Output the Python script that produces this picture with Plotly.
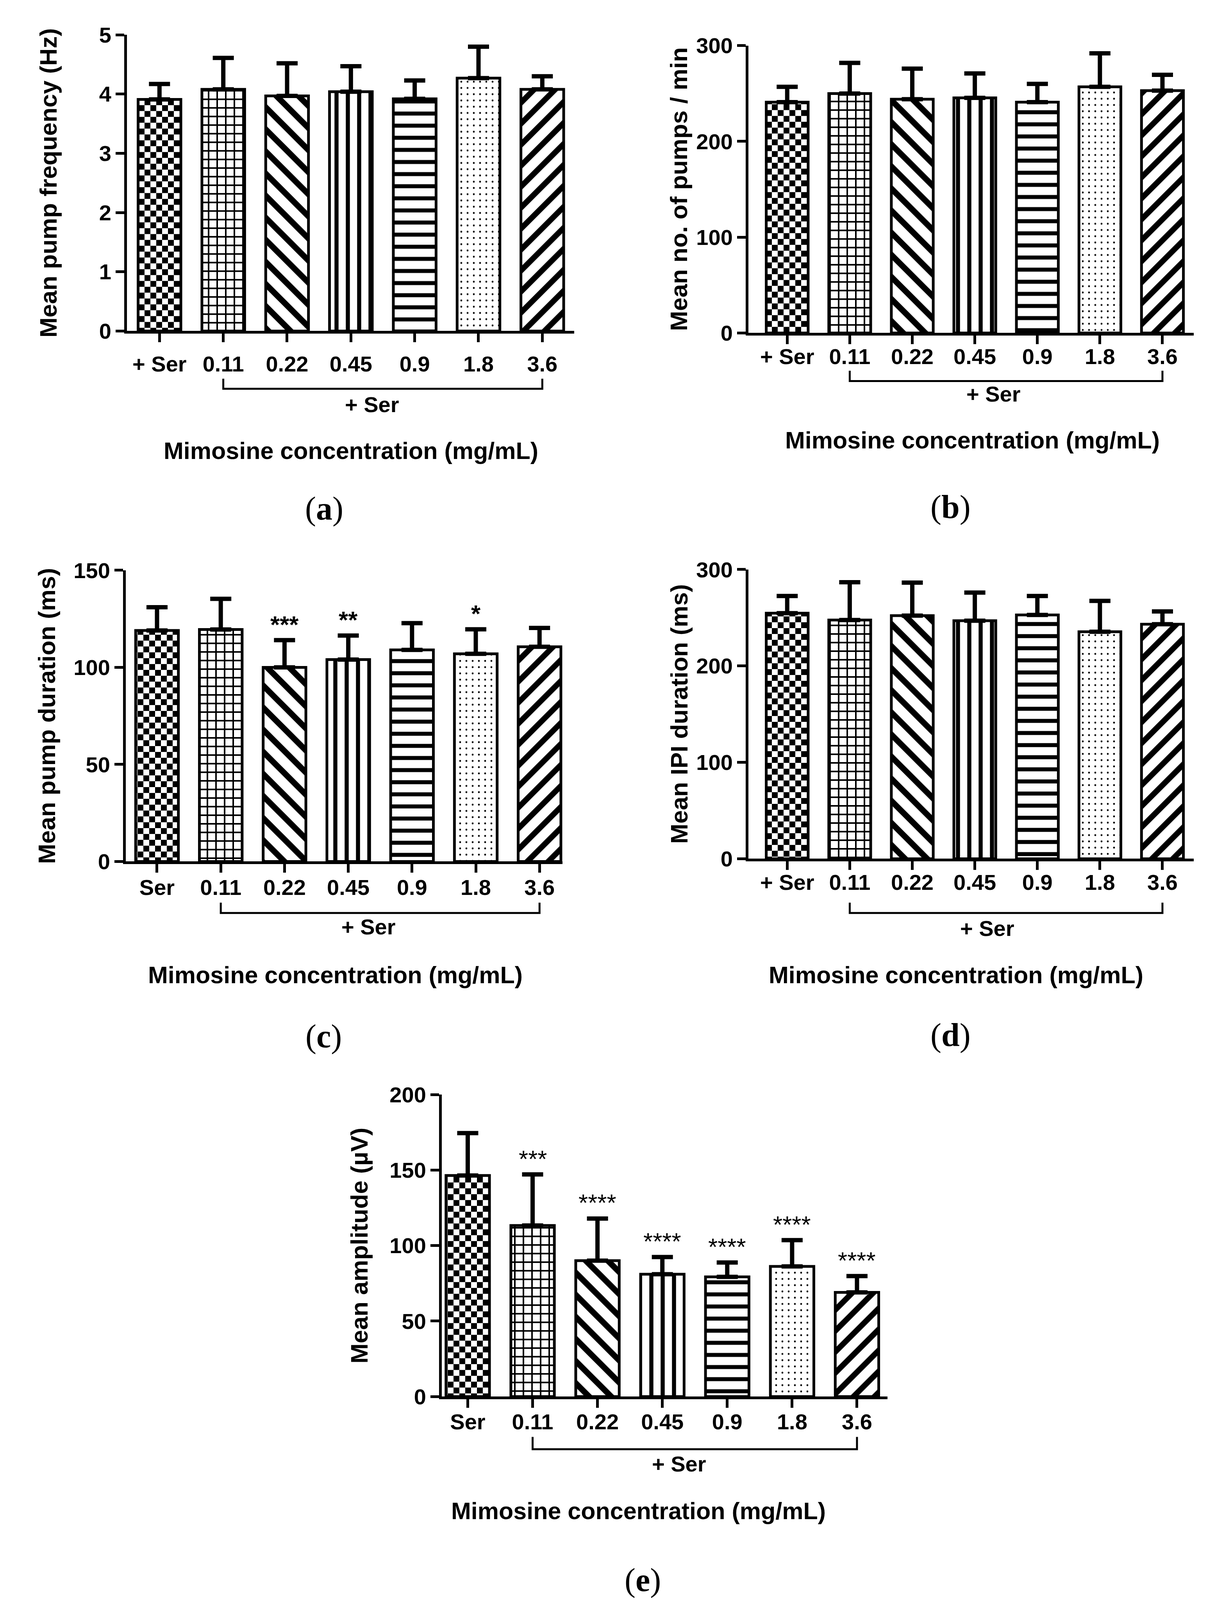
import plotly.graph_objects as go

# page size; the photographed page is offset by the html body margin plus a small top band,
# so the figure is placed to compensate
W, H = 3154, 4166
MX, MY = 8, 42
FW, FH = W - 2 * MX, H - MY

# ---------------- data ----------------
cats_a = ["+ Ser", "0.11", "0.22", "0.45", "0.9", "1.8", "3.6"]
freq_mean = [3.91, 4.08, 3.97, 4.04, 3.92, 4.27, 4.08]
freq_err = [0.26, 0.53, 0.55, 0.43, 0.31, 0.53, 0.22]

cats_b = ["+ Ser", "0.11", "0.22", "0.45", "0.9", "1.8", "3.6"]
pumps_mean = [241, 250, 244, 245.5, 241, 257, 253]
pumps_err = [16, 32, 32, 25.5, 19, 35, 16.5]

cats_c = ["Ser", "0.11", "0.22", "0.45", "0.9", "1.8", "3.6"]
dur_mean = [119, 119.5, 100, 104, 109, 107, 110.6]
dur_err = [12, 15.8, 14, 12.4, 13.8, 12.6, 9.7]
dur_stars = ["", "", "***", "**", "", "*", ""]

cats_d = ["+ Ser", "0.11", "0.22", "0.45", "0.9", "1.8", "3.6"]
ipi_mean = [254.7, 247.6, 252.2, 246.9, 252.9, 235.5, 243.3]
ipi_err = [17.8, 39.2, 34.2, 29.2, 19.6, 32, 13.2]

cats_e = ["Ser", "0.11", "0.22", "0.45", "0.9", "1.8", "3.6"]
amp_mean = [146.4, 113.3, 90, 81, 79.3, 86.2, 69]
amp_err = [28.1, 33.8, 27.9, 11.4, 9.5, 17.4, 10.8]
amp_stars = ["", "***", "****", "****", "****", "****", "****"]

x_title = "Mimosine concentration (mg/mL)"
group_label = "+ Ser"

# ---------------- styles ----------------
FONT = "Liberation Sans"
SERIF = "Liberation Serif"


def fx(p):
    return (p - MX) / FW


def fy(p):
    return 1 - (p - MY) / FH


def checker_pattern():
    s = 30
    h = s / 2
    try:
        return go.bar.marker.Pattern(
            path=f"M0,0H{h}V{h}H0Z M{h},{h}H{s}V{s}H{h}Z",
            size=s, solidity=1, fgcolor="black", bgcolor="white", fillmode="replace")
    except Exception:
        return go.bar.marker.Pattern(
            shape=".", size=20, solidity=0.45, fgcolor="black", bgcolor="white", fillmode="replace")


def simple_pattern(shape, size, solidity):
    return go.bar.marker.Pattern(shape=shape, size=size, solidity=solidity,
                                 fgcolor="black", bgcolor="white", fillmode="replace")


patterns = [
    checker_pattern(),
    simple_pattern("+", 22, 0.33),
    simple_pattern("\\", 40, 0.38),
    simple_pattern("|", 29, 0.36),
    simple_pattern("-", 31, 0.33),
    simple_pattern(".", 16, 0.07),
    simple_pattern("/", 38, 0.38),
]

# panel layout: page pixel positions; text x-positions under the axis in category units
panels = [
    dict(cats=cats_a, mean=freq_mean, err=freq_err, stars=None, ymax=5, dtick=1,
         ytitle="Mean pump frequency (Hz)", xpx=(325, 1470), ypx=(863, 93),
         xr=(-0.51, 6.5), ytx=123, xt=(3.0, 1174), gl=(3.33, 1054), br=(1013, 987),
         lab=("a", 830, 1325), so=7, star_bold=True),
    dict(cats=cats_b, mean=pumps_mean, err=pumps_err, stars=None, ymax=300, dtick=100,
         ytitle="Mean no. of pumps / min", xpx=(1916, 3056), ypx=(868, 121),
         xr=(-0.62, 6.5), ytx=1738, xt=(2.96, 1147), gl=(3.3, 1027), br=(993, 966),
         lab=("b", 2433, 1321), so=-17, star_bold=True),
    dict(cats=cats_c, mean=dur_mean, err=dur_err, stars=dur_stars, ymax=150, dtick=50,
         ytitle="Mean pump duration (ms)", xpx=(322, 1440), ypx=(2242, 1485),
         xr=(-0.49, 6.36), ytx=120, xt=(2.8, 2537), gl=(3.32, 2412), br=(2376, 2349),
         lab=("c", 828, 2697), so=-11, star_bold=True),
    dict(cats=cats_d, mean=ipi_mean, err=ipi_err, stars=None, ymax=300, dtick=100,
         ytitle="Mean IPI duration (ms)", xpx=(1916, 3056), ypx=(2235, 1483),
         xr=(-0.62, 6.5), ytx=1738, xt=(2.7, 2537), gl=(3.2, 2416), br=(2376, 2349),
         lab=("d", 2433, 2693), so=-17, star_bold=True),
    dict(cats=cats_e, mean=amp_mean, err=amp_err, stars=amp_stars, ymax=200, dtick=50,
         ytitle="Mean amplitude (µV)", xpx=(1131, 2272), ypx=(3633, 2848),
         xr=(-0.40, 6.47), ytx=920, xt=(2.63, 3930), gl=(3.26, 3808), br=(3770, 3738),
         lab=("e", 1645, 4110), so=-12, star_bold=False),
]

fig = go.Figure()
annotations = []
shapes = []
layout_axes = {}

for n, p in enumerate(panels, start=1):
    xa = "x" if n == 1 else f"x{n}"
    ya = "y" if n == 1 else f"y{n}"
    xkey = "xaxis" if n == 1 else f"xaxis{n}"
    ykey = "yaxis" if n == 1 else f"yaxis{n}"
    idx = list(range(len(p["cats"])))
    for i in idx:
        fig.add_trace(go.Bar(
            x=[i], y=[p["mean"][i]], width=0.67, xaxis=xa, yaxis=ya,
            marker=dict(color="white", line=dict(color="black", width=7), pattern=patterns[i]),
            error_y=dict(type="data", symmetric=False, array=[p["err"][i]], arrayminus=[0],
                         color="black", thickness=11, width=27),
            showlegend=False, hoverinfo="skip"))
    xd = [fx(p["xpx"][0]), fx(p["xpx"][1])]
    yd = [fy(p["ypx"][0]), fy(p["ypx"][1])]
    layout_axes[xkey] = dict(
        domain=xd, anchor=ya, range=list(p["xr"]), tickmode="array", tickvals=idx,
        ticktext=p["cats"], showline=True, linecolor="black", linewidth=7,
        ticks="outside", ticklen=22, tickwidth=7, tickcolor="black",
        tickfont=dict(family=FONT, size=56, color="black", weight="bold"),
        ticklabelstandoff=p["so"], showgrid=False, zeroline=False, fixedrange=True)
    layout_axes[ykey] = dict(
        domain=yd, anchor=xa, range=[0, p["ymax"]], dtick=p["dtick"], tick0=0,
        showline=True, linecolor="black", linewidth=7,
        ticks="outside", ticklen=22, tickwidth=7, tickcolor="black",
        tickfont=dict(family=FONT, size=56, color="black", weight="bold"),
        showgrid=False, zeroline=False, fixedrange=True)

    # y title
    annotations.append(dict(
        text=p["ytitle"], textangle=-90, xref="paper", yref="paper",
        x=fx(p["ytx"]), y=(yd[0] + yd[1]) / 2, xanchor="center", yanchor="middle",
        showarrow=False, font=dict(family=FONT, size=62, color="black", weight="bold")))
    # x title
    annotations.append(dict(
        text=x_title, xref=xa, yref="paper", x=p["xt"][0], y=fy(p["xt"][1]),
        xanchor="center", yanchor="middle", showarrow=False,
        font=dict(family=FONT, size=61, color="black", weight="bold")))
    # group label under the bracket
    annotations.append(dict(
        text=group_label, xref=xa, yref="paper", x=p["gl"][0], y=fy(p["gl"][1]),
        xanchor="center", yanchor="middle", showarrow=False,
        font=dict(family=FONT, size=56, color="black", weight="bold")))
    # panel letter
    annotations.append(dict(
        text=f"(<b>{p['lab'][0]}</b>)", xref="paper", yref="paper",
        x=fx(p["lab"][1]), y=fy(p["lab"][2]), xanchor="center", yanchor="middle",
        showarrow=False, font=dict(family=SERIF, size=84, color="black")))
    # bracket from first treated group to last
    x0 = p["cats"].index("0.11")
    x1 = len(p["cats"]) - 1
    yb = fy(p["br"][0])
    yt = fy(p["br"][1])
    shapes.append(dict(type="path", xref=xa, yref="paper",
                       path=f"M{x0},{yt} L{x0},{yb} L{x1},{yb} L{x1},{yt}",
                       line=dict(color="black", width=5)))
    # significance stars
    if p["stars"]:
        for i in idx:
            if p["stars"][i]:
                annotations.append(dict(
                    text=p["stars"][i], xref=xa, yref=ya, x=i, y=p["mean"][i] + p["err"][i],
                    xanchor="center", yanchor="bottom", yshift=4, showarrow=False,
                    font=dict(family=FONT, size=62, color="black",
                              weight="bold" if p["star_bold"] else "normal")))

fig.update_layout(
    width=FW, height=FH, margin=dict(l=0, r=0, t=0, b=0),
    paper_bgcolor="white", plot_bgcolor="white", barmode="overlay",
    showlegend=False, annotations=annotations, shapes=shapes, **layout_axes)

fig.write_html("out.html")
